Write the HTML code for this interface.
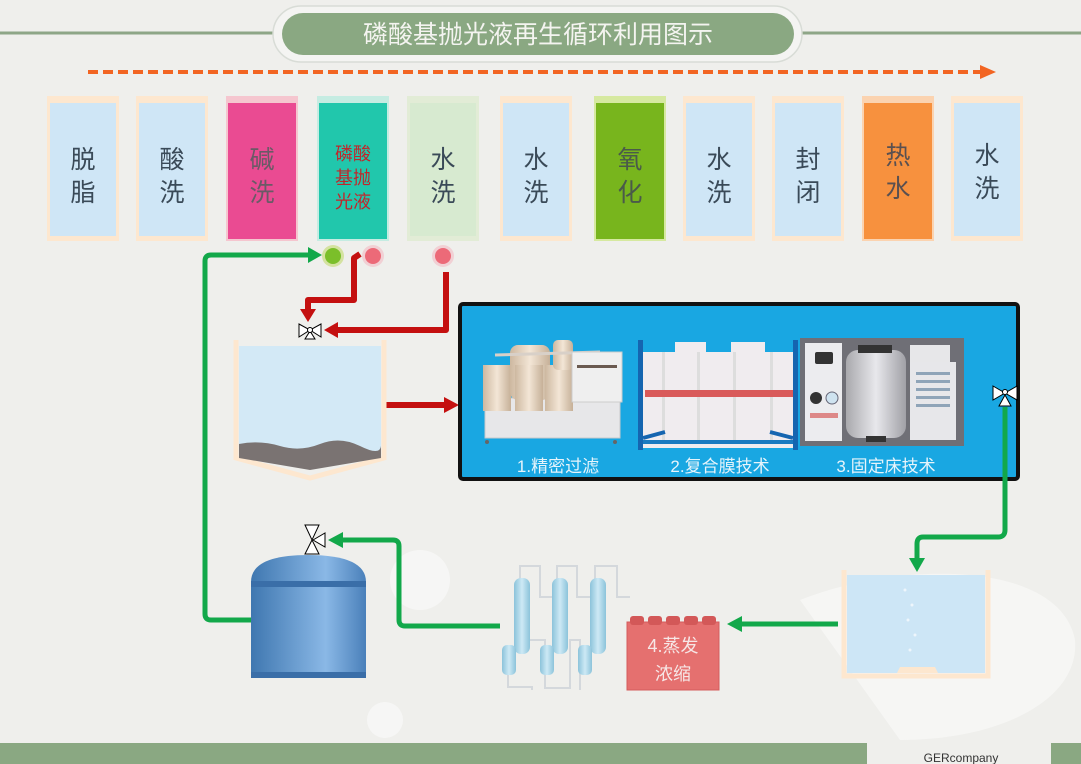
<!DOCTYPE html>
<html><head><meta charset="utf-8"><style>
html,body{margin:0;padding:0;background:#efefec;}
svg{display:block;}
text{font-family:"Liberation Sans","Noto Sans CJK SC",sans-serif;}
</style></head><body>
<svg width="1081" height="764" viewBox="0 0 1081 764" xmlns="http://www.w3.org/2000/svg">
<defs>
<marker id="ag" markerWidth="4" markerHeight="4" refX="2" refY="2" orient="auto" markerUnits="strokeWidth"><path d="M0,0 L4,2 L0,4 z" fill="#12a84a"/></marker>
<marker id="ar" markerWidth="4" markerHeight="4" refX="2" refY="2" orient="auto" markerUnits="strokeWidth"><path d="M0,0 L4,2 L0,4 z" fill="#c41010"/></marker>
<linearGradient id="tank" x1="0" x2="1"><stop offset="0" stop-color="#3f77b0"/><stop offset="0.65" stop-color="#8ab8e6"/><stop offset="1" stop-color="#4a80ba"/></linearGradient>
<linearGradient id="col" x1="0" x2="1"><stop offset="0" stop-color="#8cc3da"/><stop offset="0.5" stop-color="#cde9f5"/><stop offset="1" stop-color="#8cc3da"/></linearGradient>
<linearGradient id="cyl" x1="0" x2="1"><stop offset="0" stop-color="#a9a9ad"/><stop offset="0.5" stop-color="#e8e8ec"/><stop offset="1" stop-color="#a0a0a6"/></linearGradient>
<linearGradient id="beige" x1="0" x2="1"><stop offset="0" stop-color="#cdb8a0"/><stop offset="0.5" stop-color="#f3e6d6"/><stop offset="1" stop-color="#c6b098"/></linearGradient>
</defs>
<rect width="1081" height="764" fill="#efefec"/>
<!-- decorative faint circles -->
<circle cx="420" cy="580" r="30" fill="#fafafa" opacity="0.7"/>
<circle cx="385" cy="720" r="18" fill="#fafafa" opacity="0.7"/>
<path d="M800,600 C900,560 1060,560 1075,640 C1080,700 1000,740 900,740 Z" fill="#f7f7f6" opacity="0.8"/>

<!-- title -->
<line x1="0" y1="33" x2="1081" y2="33" stroke="#8ea687" stroke-width="3"/>
<rect x="273" y="6" width="529" height="56" rx="28" fill="#f4f4f2" stroke="#d8dcd6" stroke-width="1.5"/>
<rect x="282" y="13" width="512" height="42" rx="21" fill="#8aa882"/>
<text x="538" y="43" font-size="25" fill="#f4f4f0" text-anchor="middle">磷酸基抛光液再生循环利用图示</text>

<!-- orange dashed arrow -->
<line x1="88" y1="72" x2="982" y2="72" stroke="#f26522" stroke-width="4" stroke-dasharray="10,5"/>
<path d="M980,65 L996,72 L980,79 z" fill="#f26522"/>

<!-- process tanks -->
<g font-size="25" fill="#3a4a58" text-anchor="middle">
<g><rect x="47" y="96" width="72" height="145" fill="#fde7cf"/><rect x="50" y="103" width="66" height="133" fill="#cfe6f6"/><text x="83" y="168">脱</text><text x="83" y="201">脂</text></g>
<g><rect x="136" y="96" width="72" height="145" fill="#fde7cf"/><rect x="139" y="103" width="66" height="133" fill="#cfe6f6"/><text x="172" y="168">酸</text><text x="172" y="201">洗</text></g>
<g><rect x="226" y="96" width="72" height="145" fill="#f5c6cf"/><rect x="228" y="103" width="68" height="136" fill="#ea4b92"/><text x="262" y="168" fill="#6a5a66">碱</text><text x="262" y="201" fill="#6a5a66">洗</text></g>
<g><rect x="317" y="96" width="72" height="145" fill="#c5ece2"/><rect x="319" y="103" width="68" height="136" fill="#21c7ac"/>
<text x="353" y="160" font-size="18" fill="#c0262b">磷酸</text><text x="353" y="184" font-size="18" fill="#c0262b">基抛</text><text x="353" y="208" font-size="18" fill="#c0262b">光液</text></g>
<g><rect x="407" y="96" width="72" height="145" fill="#e2ecd6"/><rect x="410" y="103" width="66" height="133" fill="#d7ead0"/><text x="443" y="168">水</text><text x="443" y="201">洗</text></g>
<g><rect x="500" y="96" width="72" height="145" fill="#fde7cf"/><rect x="503" y="103" width="66" height="133" fill="#cfe6f6"/><text x="536" y="168">水</text><text x="536" y="201">洗</text></g>
<g><rect x="594" y="96" width="72" height="145" fill="#d6e9a0"/><rect x="596" y="103" width="68" height="136" fill="#78b51d"/><text x="630" y="168" fill="#4a5a4a">氧</text><text x="630" y="201" fill="#4a5a4a">化</text></g>
<g><rect x="683" y="96" width="72" height="145" fill="#fde7cf"/><rect x="686" y="103" width="66" height="133" fill="#cfe6f6"/><text x="719" y="168">水</text><text x="719" y="201">洗</text></g>
<g><rect x="772" y="96" width="72" height="145" fill="#fde7cf"/><rect x="775" y="103" width="66" height="133" fill="#cfe6f6"/><text x="808" y="168">封</text><text x="808" y="201">闭</text></g>
<g><rect x="862" y="96" width="72" height="145" fill="#fbd3b0"/><rect x="864" y="103" width="68" height="136" fill="#f7913e"/><text x="898" y="164" fill="#5a5050">热</text><text x="898" y="197" fill="#5a5050">水</text></g>
<g><rect x="951" y="96" width="72" height="145" fill="#fde7cf"/><rect x="954" y="103" width="66" height="133" fill="#cfe6f6"/><text x="987" y="164">水</text><text x="987" y="197">洗</text></g>
</g>

<!-- circles -->
<circle cx="333" cy="256" r="11" fill="#d4e2a0"/><circle cx="333" cy="256" r="8" fill="#7bbf2a"/>
<circle cx="373" cy="256" r="11" fill="#f1d0d4"/><circle cx="373" cy="256" r="8" fill="#ec6a78"/>
<circle cx="443" cy="256" r="11" fill="#f1d0d4"/><circle cx="443" cy="256" r="8" fill="#ec6a78"/>

<!-- red lines -->
<path d="M360,254 L354,258 L354,300 L308,300 L308,310" fill="none" stroke="#c41010" stroke-width="6" stroke-linejoin="round"/>
<path d="M300,309 L308,322 L316,309 z" fill="#c41010"/>
<path d="M446,272 L446,330 L336,330" fill="none" stroke="#c41010" stroke-width="6" stroke-linejoin="round"/>
<path d="M338,322 L324,330 L338,338 z" fill="#c41010"/>
<line x1="383" y1="405" x2="446" y2="405" stroke="#c41010" stroke-width="6"/>
<path d="M444,397 L459,405 L444,413 z" fill="#c41010"/>

<!-- valve at sediment tank -->
<g stroke="#000" stroke-width="1" fill="#fff">
<path d="M299,324 L310,330 L299,337 z"/><path d="M321,324 L310,330 L321,337 z"/><path d="M305,339 L310,331 L315,339 z"/><circle cx="310" cy="330" r="2.5"/>
</g>

<!-- sediment tank -->
<path d="M236,340 L236,458 L310,478 L384,458 L384,340" fill="none" stroke="#fde7cf" stroke-width="5"/>
<rect x="239" y="346" width="142" height="112" fill="#d3e9f6"/>
<path d="M239,444 Q260,440 280,446 T320,444 T360,446 T381,446 L381,458 L310,470 L239,458 z" fill="#7a7372"/>

<!-- blue box -->
<rect x="460" y="304" width="558" height="175" rx="3" fill="#19a7e2" stroke="#111" stroke-width="4"/>
<!-- equip 1 -->
<g>
<rect x="485" y="398" width="135" height="40" fill="#e7e7e9" stroke="#c8c8cc"/>
<rect x="483" y="365" width="28" height="46" fill="url(#beige)"/>
<rect x="510" y="345" width="40" height="55" fill="url(#beige)" rx="8"/>
<rect x="515" y="365" width="28" height="46" fill="url(#beige)"/>
<rect x="545" y="365" width="28" height="46" fill="url(#beige)"/>
<rect x="553" y="340" width="20" height="30" fill="url(#beige)" rx="5"/>
<line x1="495" y1="355" x2="600" y2="352" stroke="#d8d0c8" stroke-width="3"/>
<rect x="572" y="352" width="50" height="50" fill="#efefef" stroke="#ccc"/>
<rect x="577" y="365" width="40" height="3" fill="#6a5a50"/>
<circle cx="487" cy="442" r="2" fill="#666"/><circle cx="615" cy="442" r="2" fill="#666"/>
</g>
<!-- equip 2 -->
<g>
<rect x="643" y="342" width="150" height="106" fill="#f0ecef"/>
<rect x="643" y="342" width="32" height="10" fill="#19a7e2"/><rect x="706" y="342" width="25" height="10" fill="#19a7e2"/><rect x="765" y="342" width="28" height="10" fill="#19a7e2"/>
<g fill="#ddd"><rect x="662" y="352" width="3" height="90"/><rect x="697" y="352" width="3" height="90"/><rect x="733" y="352" width="3" height="90"/><rect x="770" y="352" width="3" height="90"/></g>
<rect x="645" y="390" width="148" height="7" fill="#d95a5a"/>
<rect x="638" y="340" width="5" height="110" fill="#1565b0"/><rect x="793" y="340" width="5" height="110" fill="#1565b0"/>
<path d="M643,438 L665,432 M793,438 L770,432" stroke="#1565b0" stroke-width="4"/>
<rect x="643" y="440" width="150" height="4" fill="#1a7ac0"/>
</g>
<!-- equip 3 -->
<g>
<rect x="800" y="338" width="164" height="108" fill="#6f6f76"/>
<rect x="805" y="343" width="37" height="98" fill="#ececef"/>
<rect x="815" y="352" width="18" height="12" fill="#333" rx="2"/>
<circle cx="816" cy="398" r="6" fill="#333"/><circle cx="832" cy="398" r="6" fill="#cfe3f0" stroke="#667"/>
<rect x="810" y="413" width="28" height="5" fill="#d88"/>
<rect x="846" y="350" width="60" height="88" rx="12" fill="url(#cyl)"/>
<rect x="858" y="345" width="34" height="8" fill="#333"/>
<rect x="866" y="436" width="20" height="6" fill="#333"/>
<rect x="910" y="345" width="40" height="18" fill="#e7e7e9"/>
<rect x="910" y="362" width="46" height="78" fill="#e7e7ea"/>
<g fill="#8fa4b8"><rect x="916" y="372" width="34" height="3"/><rect x="916" y="380" width="34" height="3"/><rect x="916" y="388" width="34" height="3"/><rect x="916" y="396" width="34" height="3"/><rect x="916" y="404" width="34" height="3"/></g>
</g>
<g font-size="17" fill="#e6f4fb" text-anchor="middle">
<text x="558" y="472">1.精密过滤</text><text x="720" y="472">2.复合膜技术</text><text x="886" y="472">3.固定床技术</text>
</g>

<!-- right valve -->
<g stroke="#000" stroke-width="1" fill="#fff">
<path d="M993,386 L1005,393 L993,400 z"/><path d="M1017,386 L1005,393 L1017,400 z"/><path d="M999,406 L1005,395 L1011,406 z"/><circle cx="1005" cy="392" r="2.5"/>
</g>

<!-- green lines -->
<path d="M1005,407 L1005,530 Q1005,537 998,537 L923,537 Q917,537 917,544 L917,560" fill="none" stroke="#12a84a" stroke-width="5"/>
<path d="M909,558 L917,572 L925,558 z" fill="#12a84a"/>
<path d="M838,624 L740,624" fill="none" stroke="#12a84a" stroke-width="5"/>
<path d="M742,616 L727,624 L742,632 z" fill="#12a84a"/>
<path d="M500,626 L405,626 Q399,626 399,620 L399,546 Q399,540 393,540 L340,540" fill="none" stroke="#12a84a" stroke-width="5"/>
<path d="M343,532 L328,540 L343,548 z" fill="#12a84a"/>
<path d="M251,620 L211,620 Q205,620 205,614 L205,261 Q205,255 211,255 L310,255" fill="none" stroke="#12a84a" stroke-width="5"/>
<path d="M308,247 L322,255 L308,263 z" fill="#12a84a"/>

<!-- valve at storage tank -->
<g stroke="#000" stroke-width="1" fill="#fff">
<path d="M305,525 L312,540 L319,525 z"/><path d="M305,554 L312,540 L319,554 z"/><path d="M313,540 L325,533 L325,547 z"/>
</g>

<!-- storage tank -->
<path d="M251,582 Q251,555 308,555 Q366,555 366,582 L366,678 L251,678 z" fill="url(#tank)"/>
<rect x="251" y="581" width="115" height="6" fill="#3a6ea8"/>
<rect x="251" y="672" width="115" height="6" fill="#3a6ea8"/>

<!-- evaporator -->
<g fill="none" stroke="#d4d8dc" stroke-width="2">
<path d="M520,580 L520,566 L540,566 L540,597 L557,597 L557,566 L577,566 L577,597 L595,597 L595,566 L617,566 L617,597 L630,597"/>
<path d="M508,650 L508,687 L532,687 L532,690 M525,640 L545,640 L545,688 L570,688 L570,640 L580,640 L580,690"/>
</g>
<rect x="514" y="578" width="16" height="76" rx="7" fill="url(#col)"/>
<rect x="552" y="578" width="16" height="76" rx="7" fill="url(#col)"/>
<rect x="590" y="578" width="16" height="76" rx="7" fill="url(#col)"/>
<rect x="502" y="645" width="14" height="30" rx="5" fill="url(#col)"/>
<rect x="540" y="645" width="14" height="30" rx="5" fill="url(#col)"/>
<rect x="578" y="645" width="14" height="30" rx="5" fill="url(#col)"/>

<!-- red box -->
<rect x="627" y="622" width="92" height="68" fill="#e5706f" stroke="#d45c5c"/>
<g fill="#d35858"><rect x="630" y="616" width="14" height="9" rx="3"/><rect x="648" y="616" width="14" height="9" rx="3"/><rect x="666" y="616" width="14" height="9" rx="3"/><rect x="684" y="616" width="14" height="9" rx="3"/><rect x="702" y="616" width="14" height="9" rx="3"/></g>
<text x="673" y="652" font-size="18" fill="#f6e6e6" text-anchor="middle">4.蒸发</text>
<text x="673" y="680" font-size="18" fill="#f6e6e6" text-anchor="middle">浓缩</text>

<!-- right tank -->
<path d="M844,570 L844,676 L988,676 L988,570" fill="none" stroke="#fde7cf" stroke-width="5"/>
<rect x="847" y="575" width="138" height="98" fill="#cde6f6"/>
<path d="M897,673 L900,667 L935,667 L938,673 z" fill="#fde7cf"/>
<g fill="#eef6fc"><circle cx="905" cy="590" r="1.5"/><circle cx="912" cy="605" r="1.5"/><circle cx="908" cy="620" r="1.5"/><circle cx="915" cy="635" r="1.5"/><circle cx="910" cy="650" r="1.5"/></g>

<!-- bottom bar -->
<rect x="0" y="743" width="867" height="21" fill="#8aa882"/>
<rect x="1051" y="743" width="30" height="21" fill="#8aa882"/>
<text x="961" y="762" font-size="12" fill="#333" text-anchor="middle">GERcompany</text>
</svg>
</body></html>
